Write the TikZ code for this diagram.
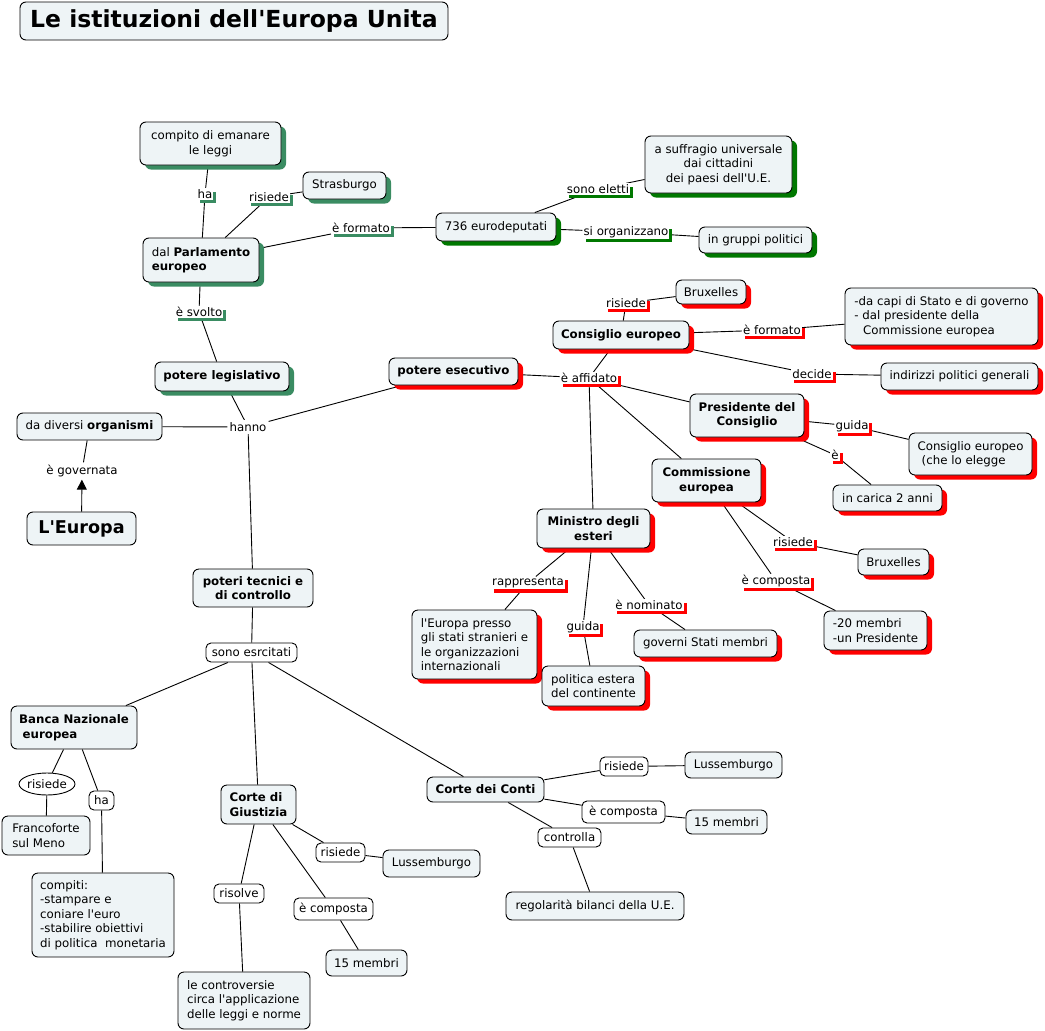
\documentclass[tikz,border=0pt]{standalone}
\usepackage{fontspec}
\setmainfont{DejaVu Sans}[Ligatures=TeXOff]
\usetikzlibrary{shadows,shapes.geometric,arrows.meta,backgrounds}
\definecolor{boxfill}{RGB}{238,244,246}
\definecolor{gA}{RGB}{58,140,98}
\definecolor{gB}{RGB}{0,120,0}
\definecolor{rA}{RGB}{255,0,0}
\tikzset{
  base/.style={font=\fontsize{11.8}{14.5}\selectfont},
  box/.style={base, draw=black, line width=0.9pt, rounded corners=6pt, fill=boxfill, align=center, inner sep=0pt},
  bfnode/.style={font=\fontsize{11.8}{14.5}\selectfont\bfseries},
  shG/.style={drop shadow={shadow xshift=5pt, shadow yshift=-4.5pt, fill=gA, opacity=1}},
  shD/.style={drop shadow={shadow xshift=5pt, shadow yshift=-4.5pt, fill=gB, opacity=1}},
  shR/.style={drop shadow={shadow xshift=5pt, shadow yshift=-4.5pt, fill=rA, opacity=1}},
  lab/.style={base, fill=white, inner xsep=1pt, inner ysep=1pt},
  labG/.style={lab, drop shadow={shadow xshift=3pt, shadow yshift=-3.5pt, fill=gA, opacity=1}},
  labD/.style={lab, drop shadow={shadow xshift=3pt, shadow yshift=-3.5pt, fill=gB, opacity=1}},
  labR/.style={lab, drop shadow={shadow xshift=3pt, shadow yshift=-3.5pt, fill=rA, opacity=1}},
  plab/.style={base, draw=black, line width=0.9pt, fill=white, rounded corners=5pt, inner sep=0pt},
  conn/.style={draw=black, line width=0.9pt},
}
\begin{document}
\begin{tikzpicture}[x=1pt,y=-1pt]
\useasboundingbox (0,0) rectangle (1045,1031);
% title
\node[box, font=\fontsize{23.5}{28}\selectfont\bfseries, minimum width=428pt, minimum height=38pt] (title) at (234,21) {Le istituzioni dell'Europa Unita};

% legislative branch
\node[box, shG, minimum width=141pt, minimum height=43pt] (compito) at (210.5,143.5) {compito di emanare\\le leggi};
\node[labG] (ha1) at (205,194) {ha};
\node[box, shG, minimum width=83pt, minimum height=27pt] (stras) at (344.5,185.5) {Strasburgo};
\node[labG] (ris1) at (269,197) {risiede};
\node[box, shG, align=left, minimum width=116pt, minimum height=44pt] (parl) at (201,260) {dal \textbf{Parlamento}\\\textbf{europeo}};
\node[labG] (form1) at (361,228) {è formato};
\node[box, shD, minimum width=120pt, minimum height=28pt] (deput) at (496,227) {736 eurodeputati};
\node[labD] (eletti) at (598,189) {sono eletti};
\node[box, shD, minimum width=147pt, minimum height=57pt] (suffr) at (718.5,164.5) {a suffragio universale\\dai cittadini\\dei paesi dell'U.E.};
\node[labD] (organ) at (626,232) {si organizzano};
\node[box, shD, minimum width=113pt, minimum height=26pt] (gruppi) at (755.5,240) {in gruppi politici};
\node[labG] (svolto) at (199,312) {è svolto};
\node[box, shG, bfnode, minimum width=134pt, minimum height=29pt] (legis) at (222,376.5) {potere legislativo};

% centre
\node[base, fill=white, inner sep=2pt] (hanno) at (248,427) {hanno};
\node[box, minimum width=145pt, minimum height=27pt] (organismi) at (89.5,426.5) {da diversi \textbf{organismi}};
\node[base, fill=white, inner sep=2.5pt] (govern) at (82,471) {è governata};
\node[box, font=\fontsize{17.6}{20}\selectfont\bfseries, minimum width=109pt, minimum height=33pt] (europa) at (81.5,528.5) {L'Europa};

% executive branch
\node[box, shR, bfnode, minimum width=129pt, minimum height=27pt] (esec) at (453.5,371.5) {potere esecutivo};
\node[labR] (affid) at (589,378) {è affidato};
\node[box, shR, bfnode, minimum width=136pt, minimum height=28pt] (consig) at (621,335) {Consiglio europeo};
\node[labR] (ris2) at (626,303) {risiede};
\node[box, shR, minimum width=70pt, minimum height=24pt] (brux1) at (711,292) {Bruxelles};
\node[labR] (form2) at (772,330) {è formato};
\node[box, shR, align=left, minimum width=193pt, minimum height=57pt] (capi) at (941.5,316.5) {-da capi di Stato e di governo\\- dal presidente della\\\hspace*{0.75em}Commissione europea};
\node[labR] (decide) at (812,374) {decide};
\node[box, shR, minimum width=157pt, minimum height=27pt] (indir) at (959.5,376.5) {indirizzi politici generali};
\node[box, shR, bfnode, minimum width=114pt, minimum height=43pt] (presid) at (747,415.5) {Presidente del\\Consiglio};
\node[labR] (guida1) at (852,426) {guida};
\node[box, shR, align=left, minimum width=123pt, minimum height=42pt] (elegge) at (970.5,454) {Consiglio europeo\\\hspace*{0.35em}(che lo elegge};
\node[labR] (e1) at (835,455) {è};
\node[box, shR, minimum width=109pt, minimum height=26pt] (carica) at (887.5,498) {in carica 2 anni};
\node[box, shR, bfnode, minimum width=109pt, minimum height=43pt] (commis) at (706.5,480.5) {Commissione\\europea};
\node[box, shR, bfnode, minimum width=113pt, minimum height=39pt] (minis) at (593.5,528.5) {Ministro degli\\esteri};
\node[labR] (rappr) at (528,583) {rappresenta};
\node[box, shR, align=left, minimum width=125pt, minimum height=69pt] (presso) at (474.5,644.5) {l'Europa presso\\gli stati stranieri e\\le organizzazioni\\internazionali};
\node[labR] (guida2) at (583,627) {guida};
\node[box, shR, align=left, minimum width=103pt, minimum height=40pt] (polit) at (593.5,686) {politica estera\\del continente};
\node[labR] (nomin) at (649,605) {è nominato};
\node[box, shR, minimum width=143pt, minimum height=27pt] (governi) at (705.5,643.5) {governi Stati membri};
\node[labR] (ris3) at (793,542) {risiede};
\node[box, shR, minimum width=71pt, minimum height=26pt] (brux2) at (893.5,562) {Bruxelles};
\node[labR] (comp1) at (776,581) {è composta};
\node[box, shR, align=left, minimum width=103pt, minimum height=39pt] (venti) at (875.5,630.5) {-20 membri\\-un Presidente};

% technical branch
\node[box, bfnode, minimum width=120pt, minimum height=38pt] (tecnici) at (253,588) {poteri tecnici e\\di controllo};
\node[plab, minimum width=91pt, minimum height=19pt] (esrc) at (251.5,652.5) {sono esrcitati};
\node[box, bfnode, align=left, minimum width=126pt, minimum height=43pt] (banca) at (74,727.5) {Banca Nazionale\\\hspace*{0.3em}europea};
\node[base, ellipse, draw=black, line width=0.9pt, fill=white, inner sep=0pt, minimum width=48pt, minimum height=22pt] (ris4) at (47,784) {risiede};
\node[box, align=left, minimum width=88pt, minimum height=39pt] (franco) at (46,835.5) {Francoforte\\sul Meno};
\node[plab, minimum width=25pt, minimum height=19pt] (ha2) at (101.5,800.5) {ha};
\node[box, align=left, minimum width=142pt, minimum height=84pt] (compiti) at (103,915) {compiti:\\-stampare e\\coniare l'euro\\-stabilire obiettivi\\di politica\ \ monetaria};
\node[box, bfnode, align=left, minimum width=75pt, minimum height=39pt] (giust) at (258.5,804.5) {Corte di\\Giustizia};
\node[plab, minimum width=50pt, minimum height=19pt] (risolve) at (239,893.5) {risolve};
\node[box, align=left, minimum width=132pt, minimum height=57pt] (contro) at (244,1000.5) {le controversie\\circa l'applicazione\\delle leggi e norme};
\node[plab, minimum width=49pt, minimum height=19pt] (ris5) at (340.5,852.5) {risiede};
\node[box, minimum width=97pt, minimum height=27pt] (luss1) at (431.5,863.5) {Lussemburgo};
\node[plab, minimum width=79pt, minimum height=22pt] (comp2) at (333.5,909) {è composta};
\node[box, minimum width=81pt, minimum height=26pt] (memb1) at (366.5,963) {15 membri};
\node[box, bfnode, minimum width=117pt, minimum height=25pt] (conti) at (485.5,789.5) {Corte dei Conti};
\node[plab, minimum width=48pt, minimum height=19pt] (ris6) at (624,766.5) {risiede};
\node[box, minimum width=97pt, minimum height=26pt] (luss2) at (733.5,765) {Lussemburgo};
\node[plab, minimum width=83pt, minimum height=22pt] (comp3) at (623.5,812) {è composta\ };
\node[box, minimum width=81pt, minimum height=24pt] (memb2) at (726.5,822) {15 membri};
\node[plab, minimum width=63pt, minimum height=19pt] (contr) at (569.5,837.5) {controlla};
\node[box, minimum width=178pt, minimum height=28pt] (regol) at (595,906) {regolarità bilanci della U.E.};

\begin{scope}[on background layer]
\draw[conn] (compito) -- (ha1) (ha1) -- (parl);
\draw[conn] (parl) -- (ris1) (ris1) -- (stras);
\draw[conn] (parl) -- (form1) (form1) -- (deput);
\draw[conn] (deput) -- (eletti) (eletti) -- (suffr);
\draw[conn] (deput) -- (organ) (organ) -- (gruppi);
\draw[conn] (parl) -- (svolto) (svolto) -- (legis);
\draw[conn] (legis) -- (hanno);
\draw[conn] (hanno) -- (organismi);
\draw[conn] (hanno) -- (esec);
\draw[conn] (hanno) -- (tecnici);
\draw[conn] (organismi) -- (govern);
\draw[conn, -{Triangle[length=10pt,width=10pt]}] (europa) -- (govern);
\draw[conn] (esec) -- (affid);
\draw[conn] (consig) -- (affid);
\draw[conn] (consig) -- (ris2) (ris2) -- (brux1);
\draw[conn] (consig) -- (form2) (form2) -- (capi);
\draw[conn] (consig) -- (decide) (decide) -- (indir);
\draw[conn] (affid) -- (presid);
\draw[conn] (affid) -- (commis);
\draw[conn] (affid) -- (minis);
\draw[conn] (presid) -- (guida1) (guida1) -- (elegge);
\draw[conn] (presid) -- (e1) (e1) -- (carica);
\draw[conn] (minis) -- (rappr) (rappr) -- (presso);
\draw[conn] (minis) -- (guida2) (guida2) -- (polit);
\draw[conn] (minis) -- (nomin) (nomin) -- (governi);
\draw[conn] (commis) -- (ris3) (ris3) -- (brux2);
\draw[conn] (commis) -- (comp1) (comp1) -- (venti);
\draw[conn] (tecnici) -- (esrc);
\draw[conn] (esrc) -- (banca);
\draw[conn] (esrc) -- (giust);
\draw[conn] (esrc) -- (conti);
\draw[conn] (banca) -- (ris4) (ris4) -- (franco);
\draw[conn] (banca) -- (ha2) (ha2) -- (compiti);
\draw[conn] (giust) -- (risolve) (risolve) -- (contro);
\draw[conn] (giust) -- (ris5) (ris5) -- (luss1);
\draw[conn] (giust) -- (comp2) (comp2) -- (memb1);
\draw[conn] (conti) -- (ris6) (ris6) -- (luss2);
\draw[conn] (conti) -- (comp3) (comp3) -- (memb2);
\draw[conn] (conti) -- (contr) (contr) -- (regol);
\end{scope}
\end{tikzpicture}
\end{document}
